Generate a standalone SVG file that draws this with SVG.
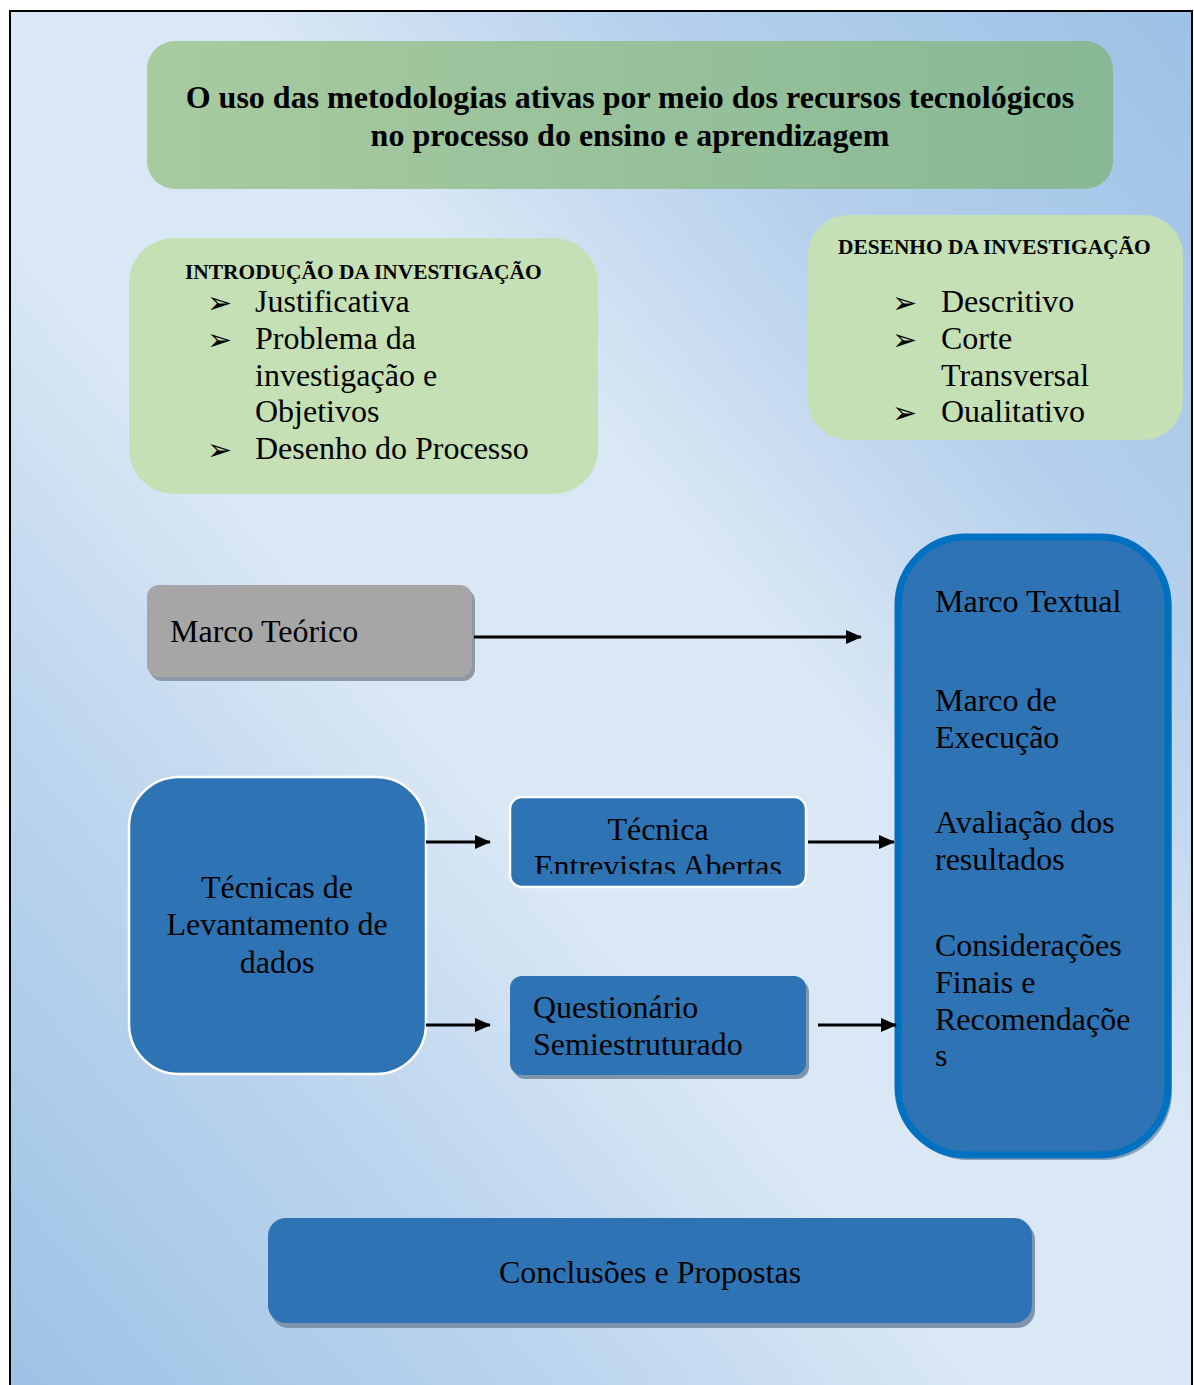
<svg xmlns="http://www.w3.org/2000/svg" width="1194" height="1385" viewBox="0 0 1194 1385">
<defs>
<linearGradient id="bg" x1="0" y1="1" x2="1" y2="0">
<stop offset="0" stop-color="#9cc2e5"/>
<stop offset="0.25" stop-color="#bcd5ee"/>
<stop offset="0.42" stop-color="#dae7f5"/>
<stop offset="0.6" stop-color="#dae7f5"/>
<stop offset="0.77" stop-color="#b5d0ec"/>
<stop offset="1" stop-color="#9cc2e5"/>
</linearGradient>
<linearGradient id="tg" x1="0" y1="0" x2="1" y2="0">
<stop offset="0" stop-color="#a8cba0"/>
<stop offset="1" stop-color="#87b895"/>
</linearGradient>
<marker id="ah" markerUnits="userSpaceOnUse" markerWidth="16" markerHeight="14" refX="15" refY="7" orient="auto">
<path d="M0,0 L16,7 L0,14 Z" fill="#000"/>
</marker>
<clipPath id="clipTec"><rect x="510" y="797" width="296" height="77"/></clipPath>
</defs>
<style>
.t{font-family:"Liberation Serif","Times New Roman",serif;font-size:32px;fill:#000}
.h{font-family:"Liberation Serif","Times New Roman",serif;font-size:21.4px;font-weight:bold;fill:#000}
.ti{font-family:"Liberation Serif","Times New Roman",serif;font-size:32px;font-weight:bold;fill:#000}
.b{font-family:"DejaVu Sans",sans-serif;font-size:30px;fill:#000}
.green{fill:#c5e0b4}
.blue{fill:#2e74b5}
.shadow{fill:#7f95ab}
.conn{stroke:#000;stroke-width:3;fill:none;marker-end:url(#ah)}
</style>
<rect x="0" y="0" width="1194" height="1385" fill="#fff"/>
<rect x="10" y="11" width="1182" height="1400" fill="url(#bg)" stroke="#000" stroke-width="2"/>

<g id="title">
<rect x="147" y="41" width="966" height="148" rx="28" fill="url(#tg)"/>
<text x="630" y="108" text-anchor="middle" class="ti">O uso das metodologias ativas por meio dos recursos tecnológicos</text>
<text x="630" y="146" text-anchor="middle" class="ti">no processo do ensino e aprendizagem</text>
</g>

<g id="intro">
<rect x="129" y="238" width="469" height="256" rx="45" class="green"/>
<text x="185" y="279" class="h">INTRODUÇÃO DA INVESTIGAÇÃO</text>
<text x="207" y="313" class="b">➢</text>
<text x="255" y="312" class="t">Justificativa</text>
<text x="207" y="350" class="b">➢</text>
<text x="255" y="349" class="t">Problema da</text>
<text x="255" y="386" class="t">investigação e</text>
<text x="255" y="422" class="t">Objetivos</text>
<text x="207" y="460" class="b">➢</text>
<text x="255" y="459" class="t">Desenho do Processo</text>
</g>

<g id="desenho">
<rect x="808" y="215" width="375" height="225" rx="40" class="green"/>
<text x="838" y="254" class="h">DESENHO DA INVESTIGAÇÃO</text>
<text x="892" y="313" class="b">➢</text>
<text x="941" y="312" class="t">Descritivo</text>
<text x="892" y="350" class="b">➢</text>
<text x="941" y="349" class="t">Corte</text>
<text x="941" y="386" class="t">Transversal</text>
<text x="892" y="423" class="b">➢</text>
<text x="941" y="422" class="t">Oualitativo</text>
</g>

<g id="marco-teorico">
<rect x="150" y="589" width="325" height="92" rx="12" fill="#8d99a6"/>
<rect x="147" y="585" width="325" height="92" rx="12" fill="#a6a6a6"/>
<text x="170" y="642" class="t">Marco Teórico</text>
</g>

<g id="tecnicas">
<rect x="129" y="777" width="297" height="297" rx="50" class="blue" stroke="#fff" stroke-width="2.5"/>
<text x="277" y="898" text-anchor="middle" class="t">Técnicas de</text>
<text x="277" y="935" text-anchor="middle" class="t">Levantamento de</text>
<text x="277" y="973" text-anchor="middle" class="t">dados</text>
</g>

<g id="tecnica-entrevistas">
<rect x="510" y="797" width="296" height="90" rx="12" class="blue" stroke="#fff" stroke-width="2.5"/>
<text x="658" y="840" text-anchor="middle" class="t">Técnica</text>
<text x="658" y="877" text-anchor="middle" class="t" clip-path="url(#clipTec)">Entrevistas Abertas</text>
</g>

<g id="questionario">
<rect x="513" y="980" width="296" height="99" rx="12" class="shadow"/>
<rect x="510" y="976" width="296" height="99" rx="12" class="blue"/>
<text x="533" y="1018" class="t">Questionário</text>
<text x="533" y="1055" class="t">Semiestruturado</text>
</g>

<g id="marco-textual">
<rect x="900" y="540" width="272" height="620" rx="68" fill="#8aa0b6"/>
<rect x="898" y="537" width="270" height="618" rx="68" class="blue" stroke="#0070c0" stroke-width="7"/>
<text x="935" y="612" class="t">Marco Textual</text>
<text x="935" y="711" class="t">Marco de</text>
<text x="935" y="748" class="t">Execução</text>
<text x="935" y="833" class="t">Avaliação dos</text>
<text x="935" y="870" class="t">resultados</text>
<text x="935" y="956" class="t">Considerações</text>
<text x="935" y="993" class="t">Finais e</text>
<text x="935" y="1030" class="t">Recomendaçõe</text>
<text x="935" y="1066" class="t">s</text>
</g>

<g id="conclusoes">
<rect x="271" y="1222" width="764" height="106" rx="18" class="shadow"/>
<rect x="268" y="1218" width="764" height="105" rx="18" class="blue"/>
<text x="650" y="1283" text-anchor="middle" class="t">Conclusões e Propostas</text>
</g>

<g id="connectors">
<line x1="474" y1="637" x2="861" y2="637" class="conn"/>
<line x1="426" y1="842" x2="490" y2="842" class="conn"/>
<line x1="426" y1="1025" x2="490" y2="1025" class="conn"/>
<line x1="808" y1="842" x2="894" y2="842" class="conn"/>
<line x1="818" y1="1025" x2="896" y2="1025" class="conn"/>
</g>
</svg>
